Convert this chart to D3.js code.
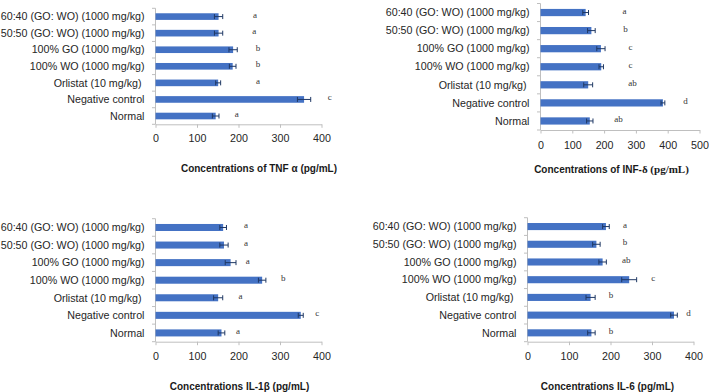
<!DOCTYPE html>
<html>
<head>
<meta charset="utf-8">
<script src="https://cdn.jsdelivr.net/npm/d3@7"></script>
<style>
  body { margin: 0; background: #fff; }
  svg { display: block; }
  .cat { font-family: "Liberation Sans", Arial, sans-serif; font-size: 10.7px; fill: #262626; white-space: pre; }
  .tick text { font-family: "Liberation Sans", Arial, sans-serif; font-size: 10.7px; fill: #262626; }
  .title { font-family: "Liberation Sans", Arial, sans-serif; font-size: 10px; font-weight: bold; fill: #1a1a1a; }
  .letter { font-family: "Liberation Serif", "Times New Roman", serif; font-size: 9px; fill: #333; }
</style>
</head>
<body>
<div id="chart"></div>
<script>
// Groups, top to bottom as drawn
const categories = [
    "60:40 (GO: WO) (1000 mg/kg)",
    "50:50 (GO: WO) (1000 mg/kg)",
    "100% GO (1000 mg/kg)",
    "100% WO (1000 mg/kg)",
    "Orlistat (10 mg/kg) ",
    "Negative control",
    "Normal"
];

// TNF α
const tnfValues = [152, 152, 187, 186, 151, 358, 145];
const tnfErrors = [10, 10, 10, 8, 6, 16, 8];
const tnfLetters = ["a", "a", "b", "b", "a", "c", "a"];
const tnfLetterAt = [240, 238, 247, 247, 247, 420, 196];
const tnfTicks = [0, 100, 200, 300, 400];

// INF-δ
const infValues = [142, 160, 190, 191, 150, 385, 155];
const infErrors = [9, 12, 13, 7, 14, 6, 10];
const infLetters = ["a", "b", "c", "c", "ab", "d", "ab"];
const infLetterAt = [264, 267, 283, 283, 289, 456, 245];
const infTicks = [0, 100, 200, 300, 400, 500];

// IL-1β
const il1Values = [163, 165, 181, 257, 151, 350, 159];
const il1Errors = [8, 10, 13, 9, 11, 6, 8];
const il1Letters = ["a", "a", "a", "b", "a", "c", "a"];
const il1LetterAt = [218, 218, 222, 308, 205, 390, 199];
const il1Ticks = [0, 100, 200, 300, 400];

// IL-6
const il6Values = [189, 166, 181, 245, 152, 353, 154];
const il6Errors = [8, 9, 9, 18, 11, 8, 9];
const il6Letters = ["a", "b", "ab", "c", "b", "d", "b"];
const il6LetterAt = [235, 235, 238, 303, 201, 388, 201];
const il6Ticks = [0, 100, 200, 300, 400];

const width = 709;
const height = 392;

const panels = [
    { values: tnfValues, errors: tnfErrors, letters: tnfLetters, letterAt: tnfLetterAt, ticks: tnfTicks,
      title: [{ t: "Concentrations of TNF α (pg/mL)" }],
      x0: 155.5, x1: 321.5, yTop: 8.3, yBottom: 124.3, tickPad: 6.5, titleX: 259, titleY: 171.5 },
    { values: infValues, errors: infErrors, letters: infLetters, letterAt: infLetterAt, ticks: infTicks,
      title: [{ t: "Concentrations of INF-" }, { t: "δ (pg/mL)", serif: true }],
      x0: 540.5, x1: 699.5, yTop: 3.5, yBottom: 130, tickPad: 8.3, titleX: 611.5, titleY: 172.5 },
    { values: il1Values, errors: il1Errors, letters: il1Letters, letterAt: il1LetterAt, ticks: il1Ticks,
      title: [{ t: "Concentrations IL-1β (pg/mL)" }],
      x0: 155.5, x1: 321.5, yTop: 218.7, yBottom: 341.7, tickPad: 7.5, titleX: 239.5, titleY: 390 },
    { values: il6Values, errors: il6Errors, letters: il6Letters, letterAt: il6LetterAt, ticks: il6Ticks,
      title: [{ t: "Concentrations IL-6 (pg/mL)" }],
      x0: 527.5, x1: 693.5, yTop: 217.7, yBottom: 341.7, tickPad: 7.5, titleX: 607.5, titleY: 390 }
];

const svg = d3.select("#chart").append("svg")
    .attr("width", width)
    .attr("height", height);

panels.forEach(p => drawPanel(p));

function drawPanel(p) {
    const g = svg.append("g");
    const maxTick = p.ticks[p.ticks.length - 1];

    const x = d3.scaleLinear().domain([0, maxTick]).range([p.x0, p.x1]);
    const y = d3.scaleBand()
        .domain(categories)
        .range([p.yTop, p.yBottom])
        .paddingInner(0.6)
        .paddingOuter(0.3);

    // x axis
    const xAxis = g.append("g")
        .attr("transform", `translate(0,${p.yBottom})`)
        .call(d3.axisBottom(x).tickValues(p.ticks).tickSize(3.5).tickPadding(p.tickPad).tickSizeOuter(0));
    xAxis.select(".domain").attr("stroke", "#bfbfbf");
    xAxis.selectAll(".tick line").attr("stroke", "#bfbfbf");

    // y axis line and category boundary ticks
    g.append("line")
        .attr("x1", x(0)).attr("x2", x(0))
        .attr("y1", p.yTop).attr("y2", p.yBottom)
        .attr("stroke", "#bfbfbf");
    g.selectAll(".ytick")
        .data(d3.range(categories.length + 1))
        .enter().append("line")
        .attr("x1", x(0) - 3.5).attr("x2", x(0))
        .attr("y1", i => p.yTop + i * y.step())
        .attr("y2", i => p.yTop + i * y.step())
        .attr("stroke", "#bfbfbf");

    // category labels
    g.selectAll(".cat")
        .data(categories)
        .enter().append("text")
        .attr("class", "cat")
        .attr("x", x(0) - 11)
        .attr("y", d => y(d) + y.bandwidth() / 2)
        .attr("dy", "0.35em")
        .attr("text-anchor", "end")
        .text(d => d);

    const rows = categories.map((c, i) => ({
        cat: c, value: p.values[i], err: p.errors[i], letter: p.letters[i], letterAt: p.letterAt[i]
    }));

    // bars
    g.selectAll(".bar")
        .data(rows)
        .enter().append("rect")
        .attr("x", x(0))
        .attr("y", d => y(d.cat))
        .attr("width", d => x(d.value) - x(0))
        .attr("height", y.bandwidth())
        .attr("fill", "#4472C4");

    // error bars
    const eb = g.selectAll(".err")
        .data(rows)
        .enter().append("g")
        .attr("stroke", "#1F3864")
        .attr("stroke-width", 1);
    const cy = d => y(d.cat) + y.bandwidth() / 2;
    eb.append("line")
        .attr("x1", d => x(d.value - d.err)).attr("x2", d => x(d.value + d.err))
        .attr("y1", cy).attr("y2", cy);
    eb.append("line")
        .attr("x1", d => x(d.value - d.err)).attr("x2", d => x(d.value - d.err))
        .attr("y1", d => cy(d) - 2.5).attr("y2", d => cy(d) + 2.5);
    eb.append("line")
        .attr("x1", d => x(d.value + d.err)).attr("x2", d => x(d.value + d.err))
        .attr("y1", d => cy(d) - 2.5).attr("y2", d => cy(d) + 2.5);

    // significance letters
    g.selectAll(".letter")
        .data(rows)
        .enter().append("text")
        .attr("class", "letter")
        .attr("x", d => x(d.letterAt))
        .attr("y", d => cy(d) + 1)
        .attr("text-anchor", "middle")
        .text(d => d.letter);

    // axis title
    const title = g.append("text")
        .attr("class", "title")
        .attr("x", p.titleX)
        .attr("y", p.titleY)
        .attr("text-anchor", "middle");
    p.title.forEach(part => {
        const ts = title.append("tspan").text(part.t);
        if (part.serif) {
            ts.style("font-family", "'Liberation Serif', 'Times New Roman', serif")
              .style("font-size", "11px");
        }
    });
}
</script>
</body>
</html>
